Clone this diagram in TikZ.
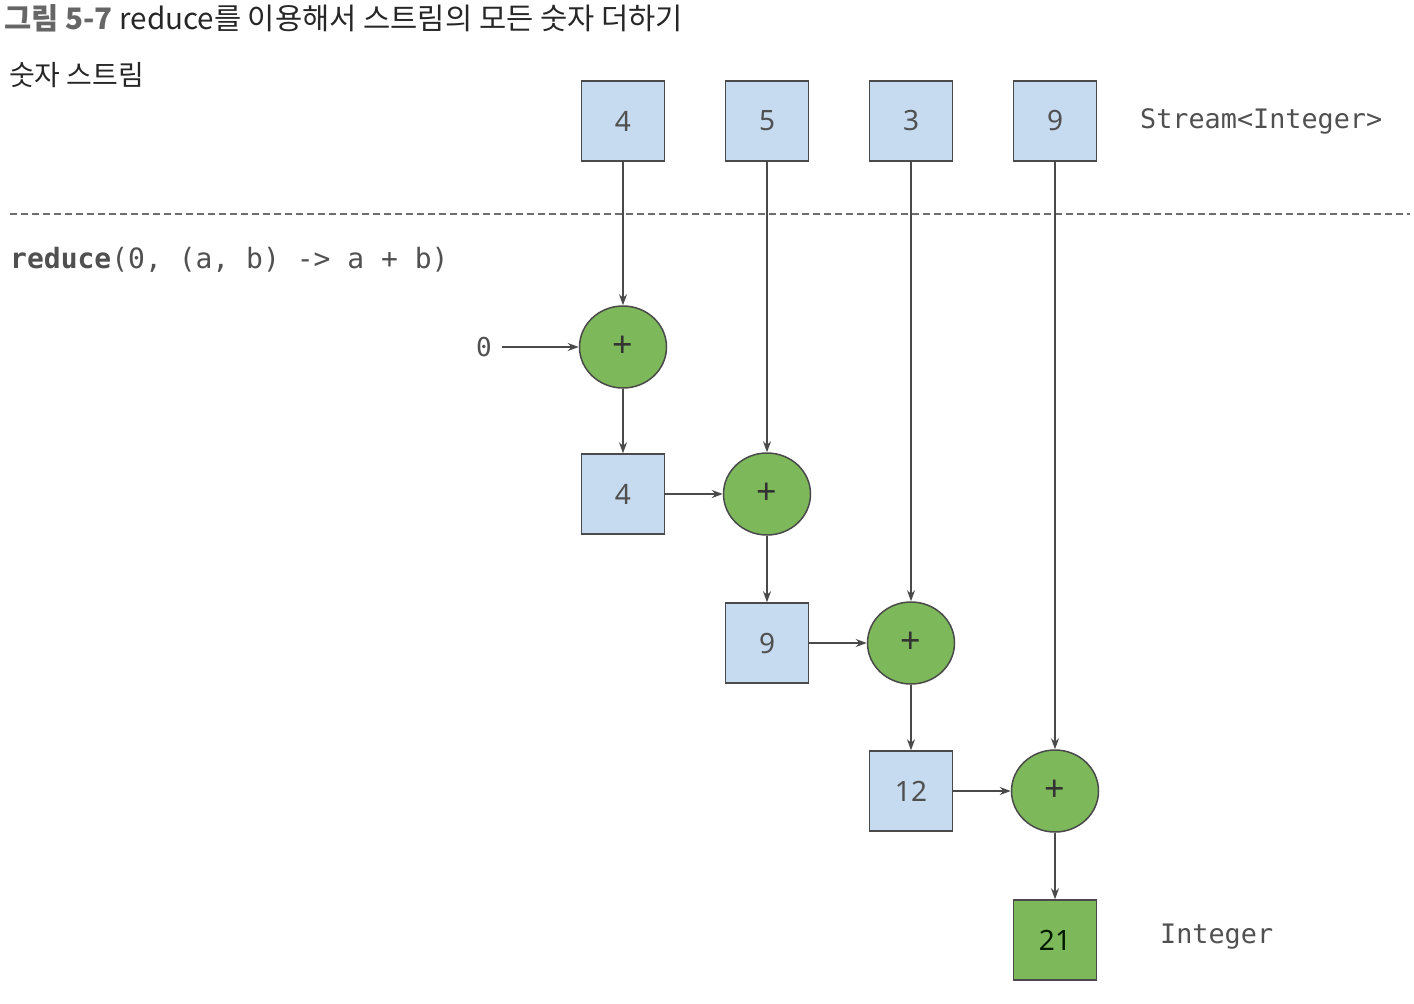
\documentclass[tikz,border=0pt]{standalone}
\usepackage{fontspec}
\setmainfont{Noto Sans CJK KR}
\newfontfamily\hangul{Noto Sans CJK KR}
\newfontfamily\codefont{DejaVu Sans Mono}
\newfontfamily\numfont{Noto Sans}
\usetikzlibrary{arrows.meta,shapes.geometric}
\definecolor{boxblue}{HTML}{C6DBF0}
\definecolor{opgreen}{HTML}{7DB85A}
\definecolor{edge}{HTML}{4A4A4A}
\definecolor{txt}{HTML}{505050}
\begin{document}
\begin{tikzpicture}[x=1pt,y=-1pt,
  valbox/.style={draw=edge,line width=1.5pt,fill=boxblue,minimum width=83pt,minimum height=80pt,
    inner sep=0pt,font=\numfont\fontsize{28}{30}\selectfont,text=txt},
  resbox/.style={valbox,fill=opgreen,text=black!75!green!40!black},
  opnode/.style={draw=edge,line width=1.5pt,fill=opgreen,ellipse,minimum width=87pt,minimum height=82pt,
    inner sep=0pt,font=\numfont\fontsize{36}{38}\selectfont,text=black!80},
  flow/.style={draw=edge,line width=1.3pt,-{Stealth[length=11pt,width=8pt]}},
  codetext/.style={font=\codefont\fontsize{26}{28}\selectfont,text=txt,inner sep=0pt}]
\useasboundingbox (0,0) rectangle (1414,1004);

% title and section labels
\node[anchor=west,inner sep=0pt] (title) at (4,18)
  {\hangul\fontsize{29.6}{31}\selectfont\textcolor{black!60}{\bfseries 그림 5-7}\ \textcolor{black!85}{reduce를 이용해서 스트림의 모든 숫자 더하기}};
\node[anchor=west,inner sep=0pt,text=black!85] (streamlbl) at (9,75) {\hangul\fontsize{28}{30}\selectfont 숫자 스트림};
\node[codetext,anchor=west,font=\codefont\fontsize{28}{30}\selectfont] (code) at (10,260) {\textbf{reduce}(0, (a, b) -> a + b)};

% separator
\draw[dashed,line width=1.2pt,edge!80,dash pattern=on 7pt off 4pt] (10,214) -- (1410,214);

% stream elements
\node[valbox] (s1) at (623,121) {4};
\node[valbox] (s2) at (767,121) {5};
\node[valbox] (s3) at (911,121) {3};
\node[valbox] (s4) at (1055,121) {9};
\node[codetext,anchor=west,font=\codefont\fontsize{26.8}{28}\selectfont] (streamtype) at (1140,121) {Stream<Integer>};

% reduction chain
\node[codetext] (zero) at (484,347) {0};
\node[opnode] (p1) at (623,347) {+};
\node[valbox] (r1) at (623,494) {4};
\node[opnode] (p2) at (767,494) {+};
\node[valbox] (r2) at (767,643) {9};
\node[opnode] (p3) at (911,643) {+};
\node[valbox] (r3) at (911,791) {12};
\node[opnode] (p4) at (1055,791) {+};
\node[resbox] (res) at (1055,940) {21};
\node[codetext,anchor=west,font=\codefont\fontsize{26.8}{28}\selectfont] (restype) at (1160,937) {Integer};

% connectors
\draw[flow] (s1) -- (p1);
\draw[flow] (s2) -- (p2);
\draw[flow] (s3) -- (p3);
\draw[flow] (s4) -- (p4);
\coordinate (zstart) at ([xshift=10pt]zero.east);
\draw[flow] (zstart) -- (p1.west);
\draw[flow] (p1) -- (r1);
\draw[flow] (r1) -- (p2);
\draw[flow] (p2) -- (r2);
\draw[flow] (r2) -- (p3);
\draw[flow] (p3) -- (r3);
\draw[flow] (r3) -- (p4);
\draw[flow] (p4) -- (res);
\end{tikzpicture}
\end{document}
